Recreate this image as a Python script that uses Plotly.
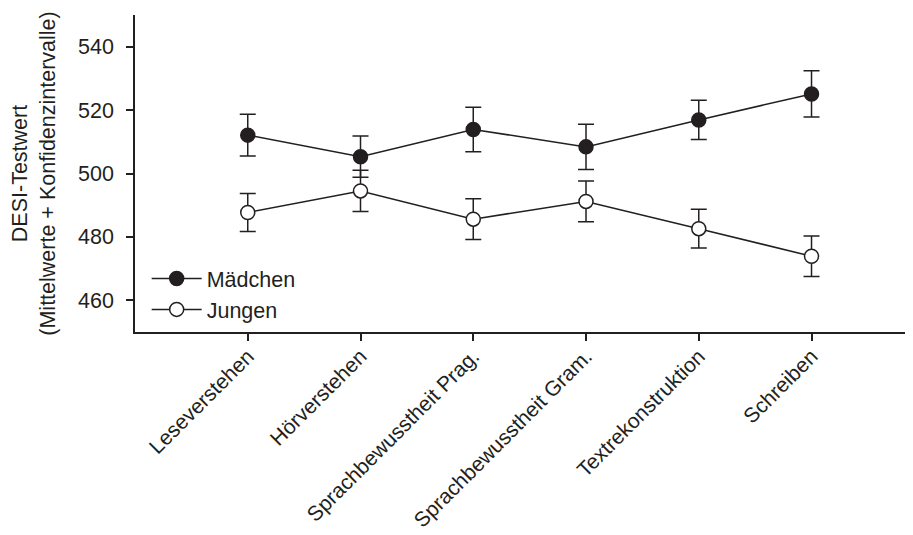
import plotly.graph_objects as go

categories = ["Leseverstehen", "Hörverstehen", "Sprachbewusstheit Prag.",
              "Sprachbewusstheit Gram.", "Textrekonstruktion", "Schreiben"]
maedchen = [512.1, 505.3, 513.9, 508.4, 516.9, 525.1]
maedchen_ci = [6.6, 6.5, 7.0, 7.1, 6.2, 7.3]
jungen = [487.7, 494.5, 485.6, 491.2, 482.6, 473.9]
jungen_ci = [6.0, 6.5, 6.4, 6.4, 6.1, 6.4]
y_ticks = [460, 480, 500, 520, 540]

ink = "#231f20"
font = "Liberation Sans, Arial, sans-serif"
fs = 21.5
xpos = list(range(len(categories)))

fig = go.Figure()
fig.add_trace(go.Scatter(
    x=xpos, y=maedchen, name="Mädchen", mode="lines+markers",
    line=dict(color=ink, width=1.5),
    marker=dict(symbol="circle", size=14, color=ink, line=dict(color=ink, width=1.5)),
    error_y=dict(type="data", array=maedchen_ci, visible=True, color=ink, thickness=1.5, width=8),
))
fig.add_trace(go.Scatter(
    x=xpos, y=jungen, name="Jungen", mode="lines+markers",
    line=dict(color=ink, width=1.5),
    marker=dict(symbol="circle", size=14, color="white", line=dict(color=ink, width=1.5)),
    error_y=dict(type="data", array=jungen_ci, visible=True, color=ink, thickness=1.5, width=8),
))

fig.update_layout(
    width=913, height=535,
    margin=dict(l=127, r=8, t=7, b=211, autoexpand=False),
    paper_bgcolor="white", plot_bgcolor="white",
    font=dict(family=font, size=fs, color=ink),
    showlegend=True,
    legend=dict(x=0.015, y=0.12, xanchor="left", yanchor="middle", itemwidth=50,
                bgcolor="rgba(0,0,0,0)", traceorder="normal",
                font=dict(size=fs)),
    xaxis=dict(range=[-1, 5.9], tickvals=xpos, ticktext=categories, tickangle=-45,
               tickfont=dict(size=21),
               showline=True, linecolor=ink, linewidth=1.5, ticks="outside",
               ticklen=7, tickwidth=1.5, tickcolor=ink, showgrid=False, zeroline=False,
               automargin=False, ticklabelstandoff=-5),
    yaxis=dict(range=[450, 550], tickvals=y_ticks, showline=True, linecolor=ink,
               linewidth=1.5, ticks="outside", ticklen=7, tickwidth=1.5, tickcolor=ink,
               showgrid=False, zeroline=False, automargin=False, ticklabelstandoff=8,
               title=dict(text="DESI-Testwert<br>(Mittelwerte + Konfidenzintervalle)",
                          font=dict(size=fs), standoff=18)),
)

fig.write_html("out.html")
